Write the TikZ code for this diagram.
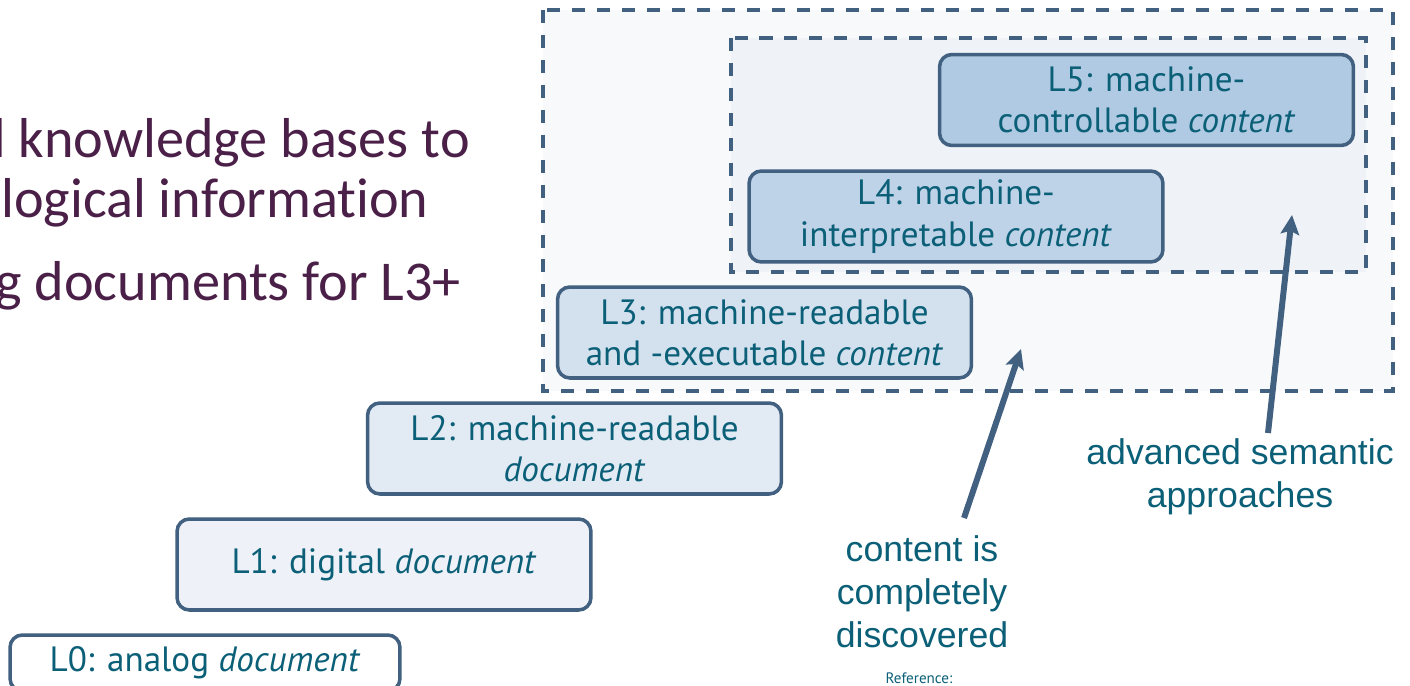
\documentclass[tikz,border=0pt]{standalone}
\usepackage{fontspec}
\setmainfont{PT Sans}
\newfontfamily\bodyfont[Ligatures=NoCommon]{Carlito}
\newfontfamily\notefont{Liberation Sans}
\usetikzlibrary{arrows.meta}

\definecolor{edgeblue}{HTML}{42607F}
\definecolor{tealtext}{HTML}{0B6078}
\definecolor{plum}{HTML}{4B2048}
\definecolor{outerfill}{HTML}{F7F9FB}
\definecolor{innerfill}{HTML}{EFF3F8}
\definecolor{fillA}{HTML}{FFFFFF}
\definecolor{fillB}{HTML}{EEF2F8}
\definecolor{fillC}{HTML}{E2EAF4}
\definecolor{fillD}{HTML}{D3E0EE}
\definecolor{fillE}{HTML}{BFD3E8}
\definecolor{fillF}{HTML}{B1CAE3}

\tikzset{
  frame/.style={draw=edgeblue, line width=2.3pt, dash pattern=on 7.4pt off 6.8pt},
  levelbox/.style={draw=edgeblue, line width=2pt, rounded corners=7pt,
    minimum width=8.28cm, minimum height=1.82cm, inner sep=0pt,
    align=center, text=tealtext, font=\fontsize{20}{23.4}\selectfont},
  bodytext/.style={anchor=base east, inner sep=0pt, text=plum,
    font=\bodyfont\fontsize{32}{38}\selectfont},
  note/.style={align=center, inner sep=0pt, text=tealtext,
    font=\notefont\fontsize{20.3}{24.4}\selectfont},
  pointer/.style={draw=edgeblue, line width=3.4pt,
    -{Stealth[length=11pt, width=10.5pt, inset=2pt]}}
}

\begin{document}
\begin{tikzpicture}[x=0.02cm, y=-0.02cm]
\useasboundingbox (0,0) rectangle (1410,686);
\fill[white] (0,0) rectangle (1410,686);

% left-hand slide text (cut off at the left edge)
\node[bodytext] (t1) at (470,157) {d knowledge bases to};
\node[bodytext] (t2) at (429,217) {ological information};
\node[bodytext] (t3) at (461,300) {g documents for L3+};

% nested dashed frames
\draw[frame, fill=outerfill] (543,10) rectangle (1393,391);
\draw[frame, fill=innerfill] (731,38) rectangle (1366,272);

% staircase of levels
\node[levelbox, fill=fillA, minimum width=7.8cm, minimum height=1.12cm] (L0) at (205,663)
  {L0: analog \textit{document}};
\node[levelbox, fill=fillB] (L1) at (384,564.5) {L1: digital \textit{document}};
\node[levelbox, fill=fillC] (L2) at (574.5,448.5) {L2: machine-readable\\\textit{document}};
\node[levelbox, fill=fillD] (L3) at (764.5,332.5) {L3: machine-readable\\and -executable \textit{content}};
\node[levelbox, fill=fillE] (L4) at (956,216.5) {L4: machine-\\interpretable \textit{content}};
\node[levelbox, fill=fillF] (L5) at (1146.5,100) {L5: machine-\\controllable \textit{content}};

% annotations
\node[note] (n1) at (922,592) {content is\\completely\\discovered};
\node[note] (n2) at (1240,477) {advanced semantic\\approaches};
\node[inner sep=0pt, text=tealtext, font=\fontsize{8.6}{10}\selectfont] (ref) at (919,678) {Reference:};

\coordinate (a1s) at (964,518);
\coordinate (a1e) at (1021,349);
\coordinate (a2s) at (1268,433);
\coordinate (a2e) at (1292,215);
\draw[pointer] (a1s) -- (a1e);
\draw[pointer] (a2s) -- (a2e);
\end{tikzpicture}
\end{document}
